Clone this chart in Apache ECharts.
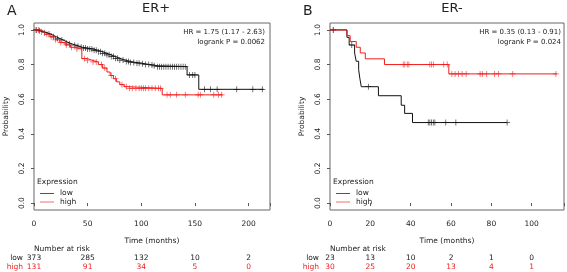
<!DOCTYPE html>
<html>
<head>
<meta charset="utf-8">
<script src="https://cdn.jsdelivr.net/npm/echarts@6/dist/echarts.min.js"></script>
<style>
  html, body { margin: 0; padding: 0; background: #fff; }
  #chart { width: 567px; height: 272px; }
</style>
</head>
<body>
<div id="chart"></div>
<script>
  // ER+ panel, low expression (black)
  var aLowTime = [0, 3, 6, 9, 12, 15, 18, 21, 24, 27, 30, 33, 36, 39, 42, 45, 50, 55, 60, 64, 68, 72, 76, 80, 85, 90, 95, 100, 104, 108, 112, 115, 142.7, 153.6];
  var aLowSurv = [1, 0.995, 0.99, 0.984, 0.977, 0.969, 0.96, 0.951, 0.942, 0.933, 0.925, 0.918, 0.912, 0.906, 0.9, 0.895, 0.89, 0.882, 0.874, 0.865, 0.856, 0.846, 0.836, 0.826, 0.818, 0.812, 0.808, 0.804, 0.8, 0.797, 0.793, 0.788, 0.74, 0.657];
  var aLowEnd = 214;
  var aLowCensor = [2, 5, 10, 14, 18, 22, 26, 30, 33, 38, 41, 44, 46, 48, 50, 52, 54, 56, 58, 60, 62, 64, 66, 68, 70, 72, 74, 76, 78, 80, 83, 86, 88, 90, 93, 96, 98, 101, 104, 107, 110, 112, 115, 117, 119, 121, 123, 125, 127, 129, 131, 133, 135, 137, 139, 141, 145, 148, 150, 159, 164.5, 170.7, 189, 204, 212.8];

  // ER+ panel, high expression (red)
  var aHighTime = [0, 6, 10, 15, 20, 24, 29, 34, 38, 44.6, 50, 54, 60, 64, 68, 71, 74, 77, 80, 84, 87, 119.5];
  var aHighSurv = [1, 0.99, 0.975, 0.96, 0.943, 0.927, 0.913, 0.9, 0.89, 0.834, 0.825, 0.815, 0.8, 0.78, 0.757, 0.737, 0.718, 0.7, 0.684, 0.672, 0.663, 0.625];
  var aHighEnd = 176;
  var aHighCensor = [2, 4, 7, 12, 16, 20, 25, 30, 35, 40, 47, 50, 55, 58, 63, 66, 72, 76, 82, 86, 89, 92, 95, 98, 100, 102, 104, 107, 110, 113, 116, 118, 124, 127, 133, 141, 153, 155, 167.6, 172, 175];

  // ER- panel, low expression (black)
  var bLowTime = [0, 8.4, 9.5, 12.2, 13, 14.2, 14.8, 15.5, 24, 35.3, 37, 40.9];
  var bLowSurv = [1, 0.957, 0.913, 0.866, 0.819, 0.77, 0.72, 0.672, 0.62, 0.565, 0.518, 0.465];
  var bLowEnd = 87.8;
  var bLowCensor = [1.6, 10.8, 19, 48.7, 49.5, 50.3, 51.2, 52, 57.4, 62.4, 87.8];

  // ER- panel, high expression (red)
  var bHighTime = [0, 8.4, 10, 13, 15, 17.5, 27, 58.9];
  var bHighSurv = [1, 0.967, 0.933, 0.9, 0.867, 0.833, 0.8, 0.746];
  var bHighEnd = 112.5;
  var bHighCensor = [1.6, 36.3, 37.1, 38.3, 39.1, 49.5, 50.3, 51.2, 56.4, 58.1, 60.4, 62, 63.7, 65.5, 67.5, 74.4, 75.5, 77.7, 81.5, 83.5, 90.6, 112];

  // number at risk
  var riskTimesA = [0, 50, 100, 150, 200];
  var aRiskLow = [373, 285, 132, 10, 2];
  var aRiskHigh = [131, 91, 34, 5, 0];
  var riskTimesB = [0, 20, 40, 60, 80, 100];
  var bRiskLow = [23, 13, 10, 2, 1, 0];
  var bRiskHigh = [30, 25, 20, 13, 4, 1];

  var yTicks = [0, 0.2, 0.4, 0.6, 0.8, 1.0];

  var BLACK = '#111';
  var RED = '#f21c1c';
  var FONT = 'DejaVu Sans';
  var plus = 'path://M0,4.4H10V5.6H0Z M4.4,0H5.6V10H4.4Z';

  function stepData(times, surv, end) {
    var d = times.map(function (t, i) { return [t, surv[i]]; });
    d.push([end, surv[surv.length - 1]]);
    return d;
  }
  function survAt(times, surv, t) {
    var s = surv[0];
    for (var i = 0; i < times.length; i++) {
      if (times[i] <= t) s = surv[i];
    }
    return s;
  }
  function censorData(times, surv, cens) {
    return cens.map(function (t) { return [t, survAt(times, surv, t)]; });
  }

  function xAxisFor(idx, max, interval) {
    return {
      type: 'value', gridIndex: idx, min: 0, max: max, interval: interval,
      name: 'Time (months)', nameLocation: 'middle', nameGap: 27,
      nameTextStyle: { color: '#222', fontFamily: FONT, fontSize: 7.5 },
      axisLine: { show: false },
      axisTick: { show: true, length: 3, lineStyle: { color: '#555' } },
      axisLabel: { color: '#222', fontFamily: FONT, fontSize: 7.5, margin: 10,
        formatter: function (v) { return v > max - 1 && max % interval !== 0 ? '' : String(v); } },
      splitLine: { show: false }
    };
  }
  function yAxisFor(idx) {
    return {
      type: 'value', gridIndex: idx, min: -0.04, max: 1.04,
      name: 'Probability', nameLocation: 'middle', nameGap: 24, nameRotate: 90,
      nameTextStyle: { color: '#222', fontFamily: FONT, fontSize: 7.5 },
      axisLine: { show: false },
      axisTick: { show: true, length: 3, customValues: yTicks, lineStyle: { color: '#555' } },
      axisLabel: { color: '#222', fontFamily: FONT, fontSize: 7.5, rotate: 90, margin: 8,
        customValues: yTicks,
        formatter: function (v) { return v.toFixed(1); } },
      splitLine: { show: false }
    };
  }

  var mychart = echarts.init(document.getElementById('chart'));
  var option = {
    animation: false,
    grid: [
      { left: 34, top: 23, width: 236, height: 187, show: true, borderColor: '#666', borderWidth: 1 },
      { left: 330, top: 23, width: 236, height: 187, show: true, borderColor: '#666', borderWidth: 1 }
    ],
    xAxis: [xAxisFor(0, 220, 50), xAxisFor(1, 116, 20)],
    yAxis: [yAxisFor(0), yAxisFor(1)],
    series: [
      { type: 'line', xAxisIndex: 0, yAxisIndex: 0, step: 'end', showSymbol: false,
        lineStyle: { color: BLACK, width: 1 }, data: stepData(aLowTime, aLowSurv, aLowEnd) },
      { type: 'line', xAxisIndex: 0, yAxisIndex: 0, step: 'end', showSymbol: false,
        lineStyle: { color: RED, width: 1 }, data: stepData(aHighTime, aHighSurv, aHighEnd) },
      { type: 'scatter', xAxisIndex: 0, yAxisIndex: 0, symbol: plus, symbolSize: 6,
        itemStyle: { color: BLACK }, data: censorData(aLowTime, aLowSurv, aLowCensor) },
      { type: 'scatter', xAxisIndex: 0, yAxisIndex: 0, symbol: plus, symbolSize: 6,
        itemStyle: { color: RED }, data: censorData(aHighTime, aHighSurv, aHighCensor) },

      { type: 'line', xAxisIndex: 1, yAxisIndex: 1, step: 'end', showSymbol: false,
        lineStyle: { color: BLACK, width: 1 }, data: stepData(bLowTime, bLowSurv, bLowEnd) },
      { type: 'line', xAxisIndex: 1, yAxisIndex: 1, step: 'end', showSymbol: false,
        lineStyle: { color: RED, width: 1 }, data: stepData(bHighTime, bHighSurv, bHighEnd) },
      { type: 'scatter', xAxisIndex: 1, yAxisIndex: 1, symbol: plus, symbolSize: 6,
        itemStyle: { color: BLACK }, data: censorData(bLowTime, bLowSurv, bLowCensor) },
      { type: 'scatter', xAxisIndex: 1, yAxisIndex: 1, symbol: plus, symbolSize: 6,
        itemStyle: { color: RED }, data: censorData(bHighTime, bHighSurv, bHighCensor) }
    ]
  };
  mychart.setOption(option);

  // annotations: titles, HR text, legend and number-at-risk table
  function txt(x, y, text, opts) {
    opts = opts || {};
    return {
      type: 'text', x: x, y: y, silent: true,
      style: {
        text: text, fill: opts.color || '#222',
        font: (opts.size || 7.5) + 'px "' + FONT + '"',
        textAlign: opts.align || 'left', textVerticalAlign: 'middle'
      }
    };
  }
  function seg(x1, x2, y, color) {
    return { type: 'line', silent: true, shape: { x1: x1, y1: y, x2: x2, y2: y },
      style: { stroke: color, lineWidth: 1 } };
  }

  var g = [];
  var panels = [
    { idx: 0, letter: 'A', title: 'ER+', hr: 'HR = 1.75 (1.17 - 2.63)', p: 'logrank P = 0.0062',
      riskT: riskTimesA, low: aRiskLow, high: aRiskHigh },
    { idx: 1, letter: 'B', title: 'ER-', hr: 'HR = 0.35 (0.13 - 0.91)', p: 'logrank P = 0.024',
      riskT: riskTimesB, low: bRiskLow, high: bRiskHigh }
  ];
  panels.forEach(function (pn) {
    var gl = option.grid[pn.idx];
    var x0 = gl.left, x1 = gl.left + gl.width;
    g.push(txt(x0 - 27, 11, pn.letter, { size: 14 }));
    g.push(txt((x0 + x1) / 2 + 4, 9, pn.title, { size: 13, align: 'center' }));
    g.push(txt(x1 - 5, 32, pn.hr, { align: 'right', size: 7 }));
    g.push(txt(x1 - 5, 42, pn.p, { align: 'right', size: 7 }));
    // legend
    g.push(txt(x0 + 3, 182, 'Expression'));
    g.push(seg(x0 + 6, x0 + 20, 193.5, '#555'));
    g.push(seg(x0 + 6, x0 + 20, 202, '#f07070'));
    g.push(txt(x0 + 26, 193.5, 'low'));
    g.push(txt(x0 + 26, 202, 'high'));
    // number at risk
    g.push(txt(x0, 249.5, 'Number at risk'));
    g.push(txt(x0 - 11, 258, 'low', { align: 'right' }));
    g.push(txt(x0 - 11, 267, 'high', { align: 'right', color: RED }));
    pn.riskT.forEach(function (t, i) {
      var px = mychart.convertToPixel({ xAxisIndex: pn.idx }, t);
      g.push(txt(px, 258, String(pn.low[i]), { align: 'center' }));
      g.push(txt(px, 267, String(pn.high[i]), { align: 'center', color: RED }));
    });
  });
  mychart.setOption({ graphic: g });
</script>
</body>
</html>
